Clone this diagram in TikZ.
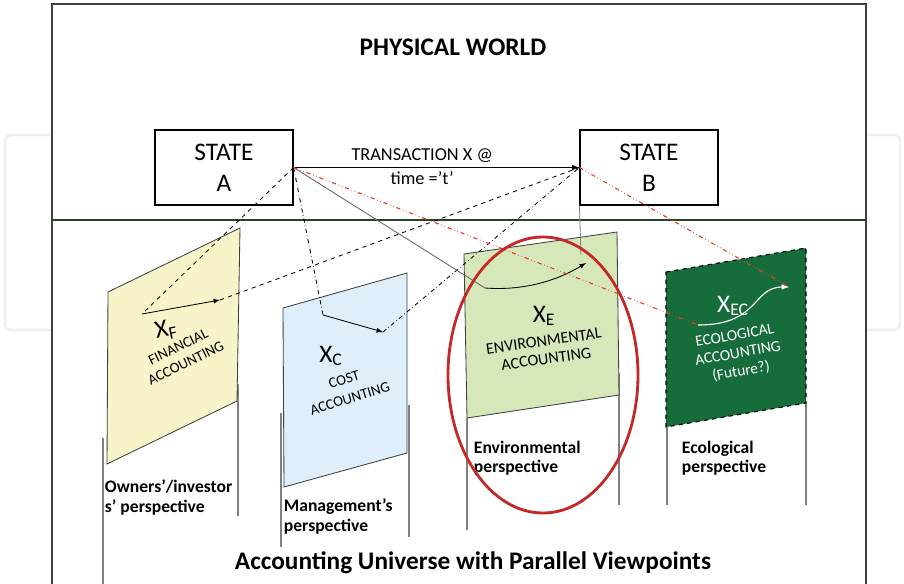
\documentclass[tikz,border=0pt]{standalone}
\usepackage{fontspec}
\setmainfont{Carlito}
\usetikzlibrary{positioning}
\definecolor{fincol}{RGB}{246,244,200}
\definecolor{costcol}{RGB}{222,238,250}
\definecolor{envcol}{RGB}{214,232,186}
\definecolor{ecocol}{RGB}{22,108,58}
\definecolor{worldline}{RGB}{36,70,36}
\definecolor{ringred}{RGB}{196,40,40}
\definecolor{dashred}{RGB}{235,60,40}

\begin{document}
\begin{tikzpicture}[x=0.025cm, y=-0.025cm, >=latex,
  state/.style = {draw, thick, rectangle, minimum width=3.45cm, minimum height=1.875cm, align=center, font=\fontsize{18}{22}\selectfont},
  sheet/.style = {draw=black!75, line width=0.6pt},
  pole/.style = {draw=gray, line width=0.9pt},
  persp/.style = {anchor=north west, align=left, font=\bfseries\fontsize{12.5}{14}\selectfont},
  acc/.style = {align=center, font=\fontsize{10.5}{12.5}\selectfont},
  xlab/.style = {font=\fontsize{18}{20}\selectfont}]
	\useasboundingbox (0,0) rectangle (904,584);
	% faint frame behind
	\draw[gray!12, line width=2pt, rounded corners=4pt] (5,135) rectangle (900,330);
	\fill[white] (52,4) rectangle (866,584);
	\draw[black!75, line width=1.4pt] (52,584) -- (52,4) -- (866,4) -- (866,584);
	\draw[worldline, line width=1.6pt] (52,220) -- (866,220);
	
	\node[font=\bfseries\fontsize{18}{20}\selectfont] (world) at (453,47) {PHYSICAL WORLD};
	\node[state] (A) at (224,167.5) {STATE\\A};
	\node[state] (B) at (649,167.5) {STATE\\B};
	
	% poles
	\draw[pole] (103,438) -- (103,584);
	\draw[pole] (238,384) -- (238,516);
	\draw[pole] (281,413) -- (281,547);
	\draw[pole] (409,405) -- (409,537);
	\draw[pole] (467,418) -- (467,530);
	\draw[pole] (619,373) -- (619,505);
	\draw[pole] (667,427) -- (667,505);
	\draw[pole] (806,403) -- (806,505);
	
	% sheets
	\filldraw[sheet, fill=fincol] (108,292) -- (240,228) -- (237,401) -- (107,464) -- cycle;
	\filldraw[sheet, fill=costcol] (283,308) -- (407,273) -- (407,453) -- (284,487) -- cycle;
	\filldraw[sheet, fill=envcol] (464,254) -- (617,232) -- (619,395) -- (467,418) -- cycle;
	\filldraw[fill=ecocol, draw=black, dashed, line width=0.8pt] (666,272) -- (806,248) -- (806,403) -- (666,427) -- cycle;
	
	\node[xlab, rotate=12] (xf) at (166,330) {X\textsubscript{F}};
	\node[acc, rotate=26] (fin) at (182,355) {FINANCIAL\\ACCOUNTING};
	\node[xlab] (xc) at (331,356) {X\textsubscript{C}};
	\node[acc, rotate=17, font=\fontsize{10.5}{14}\selectfont] (cost) at (347,389) {COST\\ACCOUNTING};
	\node[xlab] (xe) at (544,316) {X\textsubscript{E}};
	\node[acc, rotate=8, font=\fontsize{11.5}{13}\selectfont] (env) at (545,350) {ENVIRONMENTAL\\ACCOUNTING};
	\node[xlab, white] (xg) at (733,306) {X\textsubscript{EC}};
	\node[white, align=center, rotate=10, font=\fontsize{11}{13}\selectfont] (eco) at (738,354) {ECOLOGICAL\\ACCOUNTING\\(Future?)};
	
	\node[persp] (p1) at (100,475) {Owners’/investor\\s’ perspective};
	\node[persp] (p2) at (279,494) {Management’s\\perspective};
	\node[persp] (p3) at (469,436) {Environmental\\perspective};
	\node[persp] (p4) at (677,436) {Ecological\\perspective};
	
	\node[font=\bfseries\fontsize{18}{20}\selectfont] (title) at (473,563) {Accounting Universe with Parallel Viewpoints};
	
	% transaction
	\draw[->, thick] (A) -- node[pos=0.45, above, font=\fontsize{13}{15}\selectfont] {TRANSACTION X @} node[pos=0.45, below=-1pt, font=\fontsize{13}{15}\selectfont] {time =’t’} (B);
	
	\coordinate (f1) at (142,314);
	\coordinate (f2) at (220,300);
	\coordinate (c1) at (323,315);
	\coordinate (c2) at (383,332);
	\coordinate (e1) at (485,288);
	\coordinate (e2) at (586,263);
	\coordinate (e3) at (581,255);
	\coordinate (g1) at (698,325);
	\coordinate (g2) at (789,287);
	
	\draw[dashed, semithick] (A.east) -- (f1);
	\draw[->, semithick] (f1) -- (f2);
	\draw[dashed, semithick] (f2) -- (B.west);
	
	\draw[dash dot, semithick] (A.east) -- (c1);
	\draw[->, semithick] (c1) -- (c2);
	\draw[dash dot, semithick] (c2) -- (B.west);
	
	\draw[gray!80!black, line width=0.6pt] (A.east) -- (e1);
	\draw[->, semithick] (e1) .. controls (525,291) and (558,280) .. (e2);
	\draw[gray, line width=0.6pt] (B.south west) -- (e3);
	
	\draw[dashred, dash dot dot, line width=0.8pt] (A.east) -- (g1);
	\draw[->, white, line width=0.8pt] (g1) .. controls (760,325) and (752,287) .. (g2);
	\draw[dashred, dash dot dot, line width=0.8pt] (B.west) -- (g2);
	
	\draw[ringred, line width=2pt] (543,375) ellipse [x radius=95, y radius=138];
\end{tikzpicture}
\end{document}
